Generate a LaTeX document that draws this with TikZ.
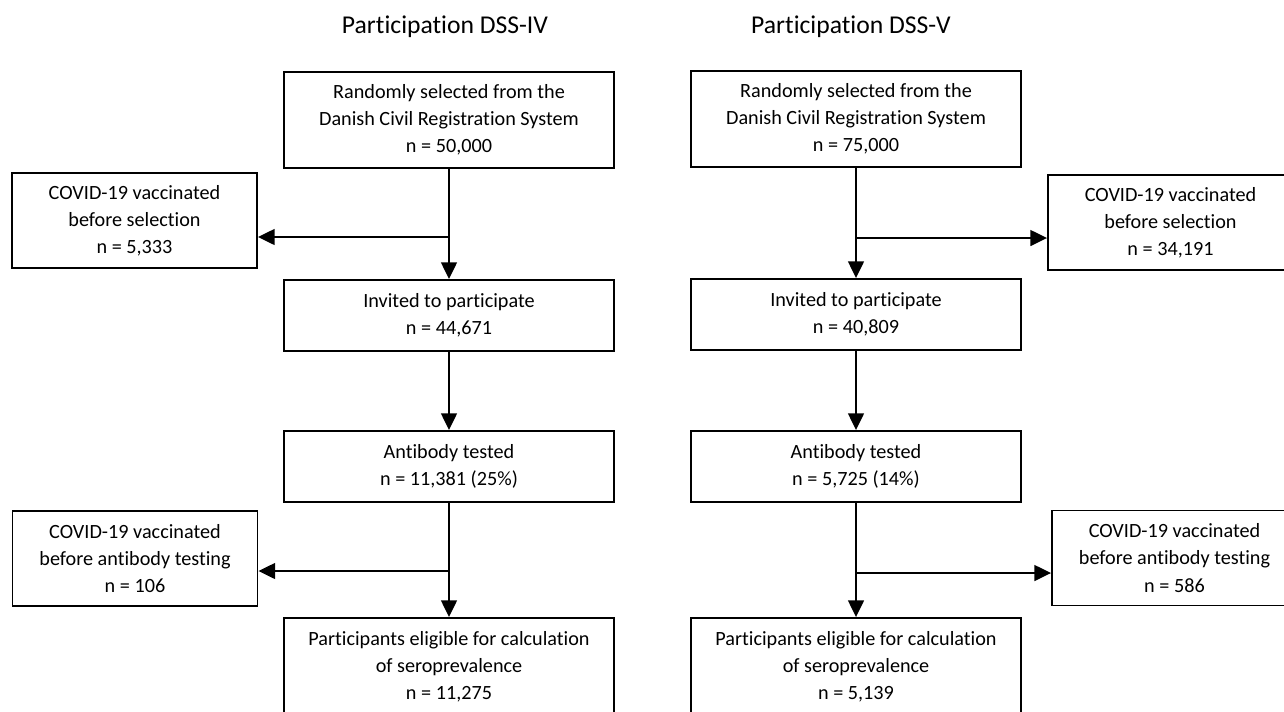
\documentclass[tikz,border=0pt]{standalone}
\usepackage{fontspec}
\setmainfont{Carlito}[Ligatures=NoCommon]
\usetikzlibrary{arrows.meta}
\tikzstyle{box}=[draw, line width=1.1pt, align=center, inner sep=0pt, font=\fontsize{11.5}{15.4}\selectfont]
\tikzstyle{mainbox}=[box, minimum width=6.6cm]
\tikzstyle{sidebox}=[box, minimum width=4.9cm, minimum height=1.9cm]
\tikzstyle{arr}=[-{Triangle[length=9.5pt,width=9pt]}, line width=1.1pt]
\tikzstyle{heading}=[font=\fontsize{14.6}{17}\selectfont]

\begin{document}
\begin{tikzpicture}[x=0.02cm, y=-0.02cm]
\clip (0,0) rectangle (1284,711);
% column headings
\node[heading] (head1) at (445,27) {Participation DSS-IV};
\node[heading] (head2) at (851,27) {Participation DSS-V};
% main boxes
\node[mainbox, minimum height=1.92cm] (sel1) at (449,120) {Randomly selected from the\\Danish Civil Registration System\\n = 50,000};
\node[mainbox, minimum height=1.92cm] (sel2) at (856,119) {Randomly selected from the\\Danish Civil Registration System\\n = 75,000};
\node[mainbox, minimum height=1.42cm] (inv1) at (449,315.5) {Invited to participate\\n = 44,671};
\node[mainbox, minimum height=1.42cm] (inv2) at (856,314.5) {Invited to participate\\n = 40,809};
\node[mainbox, minimum height=1.42cm] (ab1) at (449,466.5) {Antibody tested\\n = 11,381 (25\%)};
\node[mainbox, minimum height=1.42cm] (ab2) at (856,466.5) {Antibody tested\\n = 5,725 (14\%)};
\node[mainbox, minimum height=1.96cm] (elig1) at (449,667) {Participants eligible for calculation\\of seroprevalence\\n = 11,275};
\node[mainbox, minimum height=1.96cm] (elig2) at (856,667) {Participants eligible for calculation\\of seroprevalence\\n = 5,139};
% excluded
\node[sidebox] (excl1) at (134.5,220.5) {COVID-19 vaccinated\\before selection\\n = 5,333};
\node[sidebox] (excl2) at (135,558.5) {COVID-19 vaccinated\\before antibody testing\\n = 106};
\node[sidebox] (excl3) at (1170.5,222.5) {COVID-19 vaccinated\\before selection\\n = 34,191};
\node[sidebox] (excl4) at (1174.5,558) {COVID-19 vaccinated\\before antibody testing\\n = 586};
% branch points
\coordinate (j1) at (449,237);
\coordinate (j2) at (449,571);
\coordinate (j3) at (856,238);
\coordinate (j4) at (856,573);
\foreach \c in {1,2} {
	\draw[arr] (sel\c) -- (inv\c);
	\draw[arr] (inv\c) -- (ab\c);
	\draw[arr] (ab\c) -- (elig\c);
}
\draw[arr] (j1) -- (excl1.east |- j1);
\draw[arr] (j2) -- (excl2.east |- j2);
\draw[arr] (j3) -- (excl3.west |- j3);
\draw[arr] (j4) -- (excl4.west |- j4);
\end{tikzpicture}
\end{document}
